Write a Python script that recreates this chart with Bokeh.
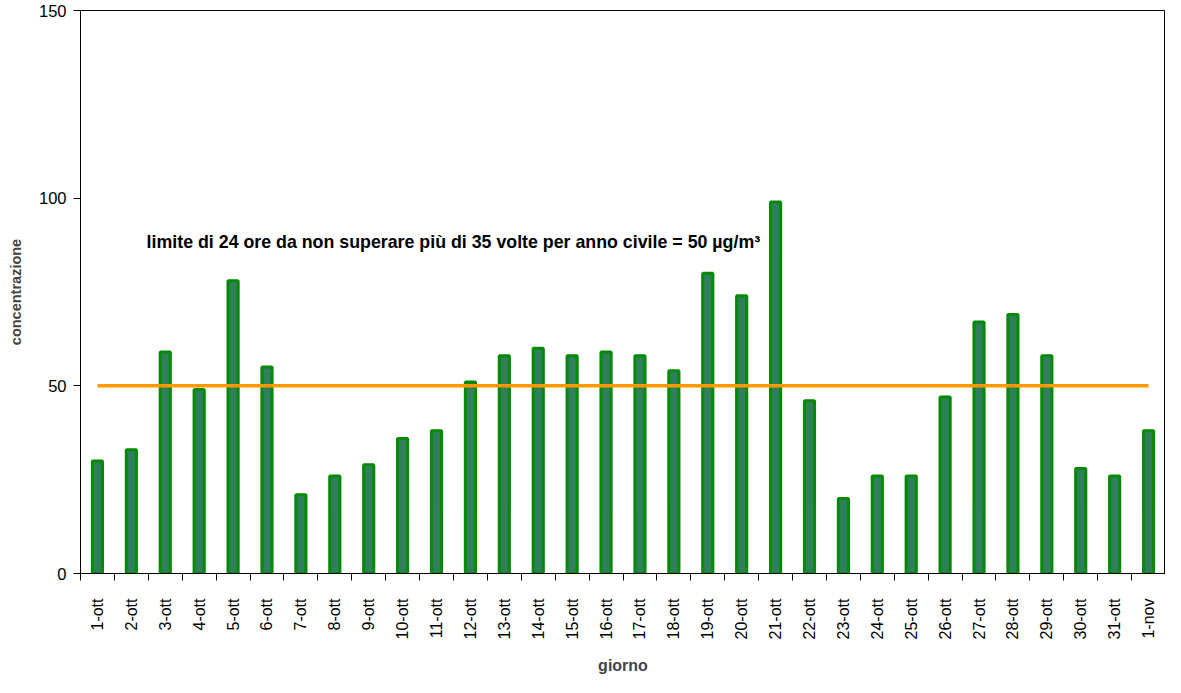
import math
from bokeh.plotting import figure
from bokeh.models import FixedTicker, Range1d, Label, ColumnDataSource
from bokeh.embed import file_html
from bokeh.resources import INLINE

days = ["1-ott", "2-ott", "3-ott", "4-ott", "5-ott", "6-ott", "7-ott", "8-ott",
        "9-ott", "10-ott", "11-ott", "12-ott", "13-ott", "14-ott", "15-ott", "16-ott",
        "17-ott", "18-ott", "19-ott", "20-ott", "21-ott", "22-ott", "23-ott", "24-ott",
        "25-ott", "26-ott", "27-ott", "28-ott", "29-ott", "30-ott", "31-ott", "1-nov"]
concentrazione = [30, 33, 59, 49, 78, 55, 21, 26, 29, 36, 38, 51, 58, 60, 58, 59,
                  58, 54, 80, 74, 99, 46, 20, 26, 26, 47, 67, 69, 58, 28, 26, 38]
limite = 50
y_ticks = [0, 50, 100, 150]
annot = "limite di 24 ore da non superare più di 35 volte per anno civile = 50 µg/m³"
x_title = "giorno"
y_title = "concentrazione"

FONT = "Liberation Sans"
n = len(days)
idx = list(range(n))

p = figure(width=1165, height=677, output_backend="svg", toolbar_location=None,
           x_range=Range1d(-0.5, n - 0.5), y_range=Range1d(0, 150),
           min_border_left=80, min_border_right=0, min_border_top=10, min_border_bottom=0)
p.grid.visible = False
p.outline_line_color = "black"
p.outline_line_width = 1
p.background_fill_color = "white"
p.border_fill_color = "white"

src = ColumnDataSource(dict(x=idx, top=concentrazione))
p.vbar(x="x", top="top", width=0.30, bottom=0, source=src,
       fill_color="#2f7f5c", line_color="#058a05", line_width=3)

p.line(x=[idx[0], idx[-1]], y=[limite, limite], line_color="#ff9900", line_width=3.5)

p.add_layout(Label(x=1.45, y=88.4, text=annot, text_font=FONT, text_font_size="17.8px",
                   text_font_style="bold", text_color="black", text_baseline="alphabetic"))

# x axis
xa = p.xaxis[0]
xa.ticker = FixedTicker(ticks=idx, minor_ticks=[i - 0.5 for i in range(n + 1)])
xa.major_label_overrides = {i: d for i, d in zip(idx, days)}
xa.major_label_orientation = math.pi / 2
xa.major_tick_out = 0
xa.major_tick_in = 0
xa.minor_tick_out = 7
xa.minor_tick_in = 0
xa.minor_tick_line_color = "black"
xa.major_label_text_font = FONT
xa.major_label_text_font_size = "16px"
xa.major_label_text_color = "black"
xa.major_label_standoff = 18
xa.axis_label = x_title
xa.axis_label_text_font = FONT
xa.axis_label_text_font_style = "bold"
xa.axis_label_text_font_size = "16px"
xa.axis_label_standoff = 15
xa.axis_line_color = "black"

# y axis
ya = p.yaxis[0]
ya.ticker = FixedTicker(ticks=y_ticks, minor_ticks=[])
ya.major_tick_out = 7
ya.major_tick_in = 0
ya.minor_tick_out = 0
ya.minor_tick_in = 0
ya.major_label_text_font = FONT
ya.major_label_text_font_size = "16.5px"
ya.major_label_text_color = "black"
ya.major_label_standoff = 7
ya.axis_label = y_title
ya.axis_label_text_font = FONT
ya.axis_label_text_font_style = "bold"
ya.axis_label_text_font_size = "14.5px"
ya.axis_label_standoff = 12
ya.axis_line_color = "black"

open("out.html", "w").write(file_html(p, INLINE))
